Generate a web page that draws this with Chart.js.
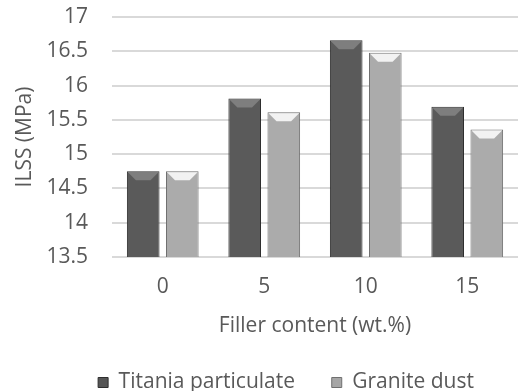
<!DOCTYPE html>
<html>
<head>
<meta charset="utf-8">
<script src="https://cdn.jsdelivr.net/npm/chart.js@4"></script>
<style>
  body { margin: 0; background: #fff; }
  #wrap { width: 518px; height: 391px; position: relative; }
</style>
</head>
<body>
<div id="wrap"><canvas id="ilssChart"></canvas></div>
<script>
const fillerContent = ['0', '5', '10', '15'];
const titaniaValues = [14.75, 15.81, 16.66, 15.69];
const graniteValues = [14.75, 15.61, 16.48, 15.36];
const yTicks = [13.5, 14, 14.5, 15, 15.5, 16, 16.5, 17];

const fontFamily = "'Open Sans', sans-serif";
const fontSize = 21;
const textColor = '#595959';

// horizontal shading across each bar
function barShade(dark, mid) {
    return (context) => {
        const el = context.element;
        if (!el || el.width === undefined || isNaN(el.x)) return mid;
        const g = context.chart.ctx.createLinearGradient(el.x - el.width / 2, 0, el.x + el.width / 2, 0);
        g.addColorStop(0, dark);
        g.addColorStop(0.5, mid);
        g.addColorStop(1, dark);
        return g;
    };
}

// bevelled top edge, like the original bars
const bevelPlugin = {
    id: 'bevel',
    afterDatasetsDraw(chart) {
        const ctx = chart.ctx;
        const tops = ['rgba(130,130,130,0.9)', 'rgba(245,245,245,0.95)'];
        chart.data.datasets.forEach((ds, i) => {
            chart.getDatasetMeta(i).data.forEach(bar => {
                const l = bar.x - bar.width / 2 + 1;
                const r = bar.x + bar.width / 2 - 1;
                const t = bar.y + 1;
                const d = 8;
                ctx.save();
                ctx.fillStyle = tops[i];
                ctx.beginPath();
                ctx.moveTo(l, t);
                ctx.lineTo(r, t);
                ctx.lineTo(r - d, t + d);
                ctx.lineTo(l + d, t + d);
                ctx.closePath();
                ctx.fill();
                ctx.restore();
            });
        });
    }
};

// the legend in the original sits a little right of centre
const legendShift = {
    id: 'legendShift',
    afterLayout(chart) {
        chart.legend.left += 25;
        chart.legend.right += 25;
    }
};

new Chart(document.getElementById('ilssChart').getContext('2d'), {
    type: 'bar',
    data: {
        labels: fillerContent,
        datasets: [
            {
                label: 'Titania particulate',
                data: titaniaValues,
                backgroundColor: barShade('#3c3c3c', '#5a5a5a'),
                borderColor: '#2e2e2e',
                borderWidth: 1
            },
            {
                label: 'Granite dust',
                data: graniteValues,
                backgroundColor: barShade('#8e8e8e', '#ababab'),
                borderColor: '#6f6f6f',
                borderWidth: 1
            }
        ]
    },
    plugins: [bevelPlugin, legendShift],
    options: {
        responsive: true,
        maintainAspectRatio: false,
        animation: false,
        categoryPercentage: 0.77,
        barPercentage: 0.835,
        layout: { padding: { top: 17, right: -4, left: 0, bottom: -12 } },
        plugins: {
            tooltip: { enabled: false },
            legend: {
                position: 'bottom',
                labels: {
                    color: textColor,
                    font: { family: fontFamily, size: fontSize },
                    boxWidth: 10,
                    boxHeight: 10,
                    padding: 4,
                    generateLabels: (chart) => {
                        const fills = ['#555555', '#a6a6a6'];
                        const gaps = ['\u00a0\u00a0\u00a0\u00a0\u00a0\u00a0', ''];
                        return chart.data.datasets.map((ds, i) => ({
                            text: ds.label + gaps[i],
                            fillStyle: fills[i],
                            strokeStyle: ds.borderColor,
                            lineWidth: 1,
                            fontColor: textColor,
                            datasetIndex: i,
                            hidden: false
                        }));
                    }
                }
            }
        },
        scales: {
            x: {
                afterFit: (axis) => {
                    axis.height = 111;
                },
                grid: { display: false, drawTicks: false },
                border: { display: false },
                ticks: {
                    color: textColor,
                    font: { family: fontFamily, size: fontSize },
                    padding: 17
                },
                title: {
                    display: true,
                    text: 'Filler content (wt.%)',
                    color: textColor,
                    font: { family: fontFamily, size: fontSize },
                    padding: { top: 14, bottom: 29 }
                }
            },
            y: {
                min: 13.5,
                max: 17,
                afterBuildTicks: (axis) => {
                    axis.ticks = yTicks.map(v => ({ value: v }));
                },
                afterFit: (axis) => {
                    axis.width = 112;
                },
                grid: {
                    color: '#d9d9d9',
                    lineWidth: 2,
                    drawTicks: true,
                    tickLength: 24,
                    tickColor: 'rgba(0,0,0,0)'
                },
                border: { display: false },
                ticks: {
                    color: textColor,
                    font: { family: fontFamily, size: fontSize },
                    padding: 0,
                    autoSkip: false,
                    callback: (value) => String(value)
                },
                title: {
                    display: true,
                    text: 'ILSS (MPa)',
                    color: textColor,
                    font: { family: fontFamily, size: fontSize },
                    padding: { top: 12, bottom: 0 }
                }
            }
        }
    }
});
</script>
</body>
</html>
